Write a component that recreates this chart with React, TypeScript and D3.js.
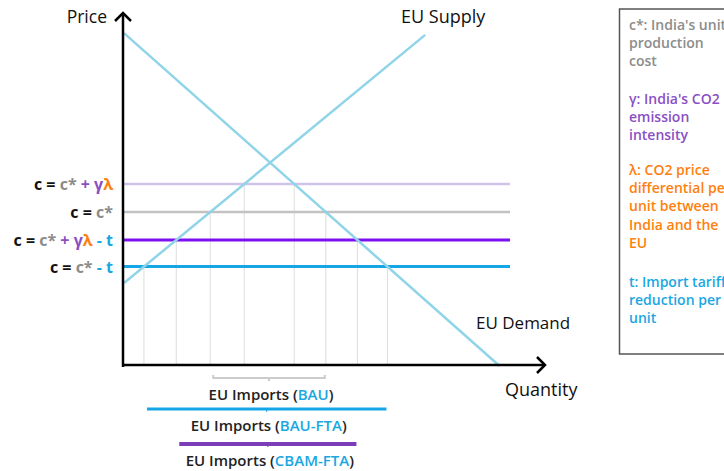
import React from "react";
import * as d3 from "d3";

// Price levels (top to bottom) and the quantity window
const priceLevelKeys = ["cbam", "bau", "cbamFta", "bauFta"];
const priceLevelValues = [52, 44, 36, 28.4];
const supplyPoints: [number, number][] = [[0, 23.7], [75.3, 94.6]];
const demandPoints: [number, number][] = [[0, 95.1], [93.9, 0]];
const importScenarios = ["BAU", "BAU-FTA", "CBAM-FTA"];
const importScenarioLevel = ["bau", "bauFta", "cbamFta"];

const legendGroups = [
  { color: "#8c8c8c", lines: ["c*: India's unit", "production", "cost"] },
  { color: "#8a4fc4", lines: ["γ: India's CO2", "emission", "intensity"] },
  { color: "#ff7f0e", lines: ["λ: CO2 price", "differential per", "unit between", "India and the", "EU"] },
  { color: "#1aa7e2", lines: ["t: Import tariff", "reduction per", "unit"] },
];

const C_GRAY = "#8c8c8c";
const C_PURPLE = "#8a4fc4";
const C_ORANGE = "#ff7f0e";
const C_BLUE = "#1aa7e2";

const levelStyle: Record<string, { color: string; width: number }> = {
  cbam: { color: "#cfc3ea", width: 2.5 },
  bau: { color: "#c2c2c2", width: 2.5 },
  cbamFta: { color: "#7d10f0", width: 3 },
  bauFta: { color: "#14a6e6", width: 3 },
};

const bracketStyle: Record<string, { color: string; width: number; y: number }> = {
  bau: { color: "#cccccc", width: 2, y: 378 },
  bauFta: { color: "#14a6e6", width: 3, y: 409 },
  cbamFta: { color: "#7b3db8", width: 4, y: 444 },
};

const FONT = "'Open Sans', Lato, sans-serif";

export default function App() {
  const width = 724;
  const height = 471;
  const x = d3.scaleLinear().domain([0, 100]).range([124, 524]);
  const y = d3.scaleLinear().domain([0, 100]).range([366, 16]);

  const line = d3
    .line<[number, number]>()
    .x((d) => x(d[0]))
    .y((d) => y(d[1]));

  const supplyQ = (p: number) =>
    ((p - supplyPoints[0][1]) / (supplyPoints[1][1] - supplyPoints[0][1])) *
    (supplyPoints[1][0] - supplyPoints[0][0]);
  const demandQ = (p: number) =>
    ((demandPoints[0][1] - p) / (demandPoints[0][1] - demandPoints[1][1])) *
    (demandPoints[1][0] - demandPoints[0][0]);

  const levelPrice: Record<string, number> = {};
  priceLevelKeys.forEach((k, i) => (levelPrice[k] = priceLevelValues[i]));

  const labelParts: Record<string, { t: string; c: string }[]> = {
    cbam: [
      { t: "c = ", c: "#111" },
      { t: "c*", c: C_GRAY },
      { t: " + γ", c: C_PURPLE },
      { t: "λ", c: C_ORANGE },
    ],
    bau: [
      { t: "c = ", c: "#111" },
      { t: "c*", c: C_GRAY },
    ],
    cbamFta: [
      { t: "c = ", c: "#111" },
      { t: "c*", c: C_GRAY },
      { t: " + γ", c: C_PURPLE },
      { t: "λ", c: C_ORANGE },
      { t: " - t", c: C_BLUE },
    ],
    bauFta: [
      { t: "c = ", c: "#111" },
      { t: "c*", c: C_GRAY },
      { t: " - t", c: C_BLUE },
    ],
  };

  const x0 = x(0) - 1;
  const yAxis = y(0);

  return (
    <svg
      width={width}
      height={height}
      style={{ position: "absolute", left: 0, top: 0, background: "#fff" }}
      fontFamily={FONT}
    >
      {/* drop lines from each intersection to the quantity axis */}
      {priceLevelKeys.map((k) => {
        const p = levelPrice[k];
        return [supplyQ(p), demandQ(p)].map((q, j) => (
          <line
            key={k + j}
            x1={x(q)}
            x2={x(q)}
            y1={y(p)}
            y2={yAxis}
            stroke="#dddddd"
            strokeWidth={1}
          />
        ));
      })}

      {/* price levels */}
      {priceLevelKeys.map((k) => (
        <line
          key={k}
          x1={x(0)}
          x2={x(96.5)}
          y1={y(levelPrice[k])}
          y2={y(levelPrice[k])}
          stroke={levelStyle[k].color}
          strokeWidth={levelStyle[k].width}
        />
      ))}

      {/* supply and demand */}
      <path d={line(supplyPoints) || ""} stroke="#8fd4e8" strokeWidth={2.5} fill="none" />
      <path d={line(demandPoints) || ""} stroke="#8fd4e8" strokeWidth={2.5} fill="none" />

      {/* axes */}
      <line x1={x0} x2={x0} y1={yAxis + 1} y2={13} stroke="#000" strokeWidth={2.5} />
      <polyline
        points={`${x0 - 8},${21} ${x0},${13} ${x0 + 8},${21}`}
        stroke="#000"
        strokeWidth={2.5}
        fill="none"
      />
      <line x1={x0 - 1} x2={545} y1={yAxis - 1} y2={yAxis - 1} stroke="#000" strokeWidth={2.5} />
      <polyline
        points={`${537},${yAxis - 9} ${545},${yAxis - 1} ${537},${yAxis + 7}`}
        stroke="#000"
        strokeWidth={2.5}
        fill="none"
      />

      <text x={107} y={23} fontSize={17.5} textAnchor="end" fill="#111">
        Price
      </text>
      <text x={401} y={23} fontSize={18} fill="#111">
        EU Supply
      </text>
      <text x={476} y={329} fontSize={17} fill="#111">
        EU Demand
      </text>
      <text x={505} y={396} fontSize={18} fill="#111">
        Quantity
      </text>

      {/* price level labels */}
      {priceLevelKeys.map((k) => (
        <text
          key={k}
          x={113}
          y={y(levelPrice[k]) + 6}
          fontSize={16}
          fontWeight={700}
          textAnchor="end"
          style={{ whiteSpace: "pre" }}
        >
          {labelParts[k].map((s, i) => (
            <tspan key={i} fill={s.c}>
              {s.t}
            </tspan>
          ))}
        </text>
      ))}

      {/* import quantities under each scenario */}
      {importScenarios.map((name, i) => {
        const k = importScenarioLevel[i];
        const p = levelPrice[k];
        const a = x(supplyQ(p)) + 3;
        const b = x(demandQ(p)) - 1;
        const st = bracketStyle[k];
        const mid = (a + b) / 2;
        const by = st.y;
        return (
          <g key={name}>
            {k === "bau" ? (
              <path
                d={`M${a},${by - 3} L${a},${by} L${b},${by} L${b},${by - 3} M${mid},${by} L${mid},${by + 3}`}
                stroke={st.color}
                strokeWidth={st.width}
                fill="none"
              />
            ) : (
              <>
                <line x1={a} x2={b} y1={by} y2={by} stroke={st.color} strokeWidth={st.width} />
                <line x1={mid} x2={mid} y1={by} y2={by + 3} stroke={st.color} strokeWidth={1} />
              </>
            )}
            <text
              x={mid + 2}
              y={by + 22}
              fontSize={15}
              fontWeight={600}
              textAnchor="middle"
              fill="#222"
            >
              EU Imports (<tspan fill={C_BLUE}>{name}</tspan>)
            </text>
          </g>
        );
      })}

      {/* legend */}
      <rect x={619.5} y={9} width={120} height={345} fill="#fff" stroke="#555" strokeWidth={1.5} />
      {legendGroups.map((g, gi) => {
        const starts = [30, 104, 175, 287];
        return g.lines.map((t, li) => (
          <text
            key={gi + "-" + li}
            x={629}
            y={starts[gi] + li * 18.2}
            fontSize={14}
            fontWeight={600}
            fill={g.color}
          >
            {t}
          </text>
        ));
      })}
    </svg>
  );
}
